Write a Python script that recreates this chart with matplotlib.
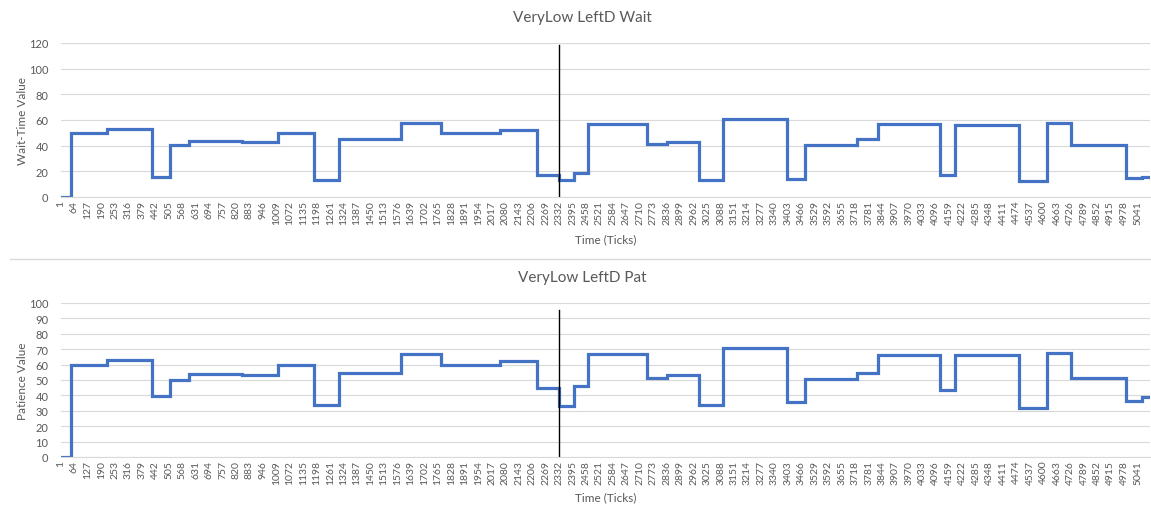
import matplotlib
matplotlib.use('Agg')
import matplotlib.pyplot as plt
import numpy as np
from matplotlib.lines import Line2D

# step change points (tick where a new value starts) shared by both series
starts = [1, 46, 218, 426, 511, 601, 847, 1015, 1186, 1302,
          1591, 1778, 2056, 2230, 2333, 2402, 2469, 2742, 2839, 2987,
          3101, 3400, 3484, 3725, 3826, 4115, 4184, 4486, 4614, 4728,
          4984, 5062]
last_tick = 5098

wait_vals = [0, 50, 53, 15.5, 40.5, 44, 43, 49.5, 13.5, 45,
             57.5, 50, 52.5, 17.5, 13, 18.5, 56.5, 41.5, 42.5, 13,
             61, 14, 40.5, 45, 57, 17.5, 56, 12.5, 58, 40.5,
             14.5, 15.5]
pat_vals = [0, 60, 63, 39.5, 50, 54, 53, 59.5, 33.5, 54.5,
            67, 60, 62.5, 44.5, 33, 46, 67, 51.5, 53, 33.5,
            70.5, 36, 50.5, 54.5, 66.5, 43.5, 66, 31.5, 67.5, 51,
            36.5, 39]

xtick_labels = list(range(1, 5042, 63))
marker_tick = 2332

plt.rcParams['font.family'] = ['Lato', 'DejaVu Sans']
gray = '#595959'
grid = '#D9D9D9'
blue = '#4472C4'

W, H = 1151, 506
fig = plt.figure(figsize=(W / 100, H / 100), dpi=100)


def panel(top_px, vals, yticks, ylabel, title, vline_top, xlab_px):
    ax = fig.add_axes([61 / W, (H - top_px - 154) / H, 1089 / W, 154 / H])
    xs = starts + [last_tick]
    ys = vals + [vals[-1]]
    ax.step(xs, ys, where='post', color=blue, lw=2.3, solid_joinstyle='miter')
    ax.axvline(marker_tick, ymin=0, ymax=vline_top, color='black', lw=1)
    ax.set_xlim(1, last_tick)
    ax.set_ylim(yticks[0], yticks[-1])
    ax.set_yticks(yticks)
    ax.set_xticks(xtick_labels)
    ax.set_xticklabels([str(v) for v in xtick_labels], rotation=90)
    ax.tick_params(axis='x', length=0, pad=2, labelsize=7.5, labelcolor=gray)
    ax.tick_params(axis='y', length=0, pad=9, labelsize=8, labelcolor=gray)
    ax.grid(axis='y', color=grid, lw=0.8)
    ax.set_axisbelow(True)
    for s in ['top', 'right', 'left']:
        ax.spines[s].set_visible(False)
    ax.spines['bottom'].set_color(grid)
    ax.set_ylabel(ylabel, fontsize=8.5, color=gray, va='center')
    ax.yaxis.set_label_coords(-38 / 1089, 0.5)
    ax.set_xlabel('Time (Ticks)', fontsize=8.5, color=gray, va='center')
    ax.xaxis.set_label_coords(0.5, -xlab_px / 154)
    fig.text(582 / W, 1 - (top_px - 26) / H, title, ha='center', va='center',
             fontsize=11, color=gray)
    return ax


panel(44, wait_vals, list(range(0, 121, 20)), 'Wait-Time Value',
      'VeryLow LeftD Wait', 152 / 154, 42)
panel(304, pat_vals, list(range(0, 101, 10)), 'Patience Value',
      'VeryLow LeftD Pat', 147 / 154, 40)

fig.add_artist(Line2D([10 / W, 1], [1 - 260 / H, 1 - 260 / H],
                      transform=fig.transFigure, color=grid, lw=1))

fig.savefig('out.png', dpi=100)
